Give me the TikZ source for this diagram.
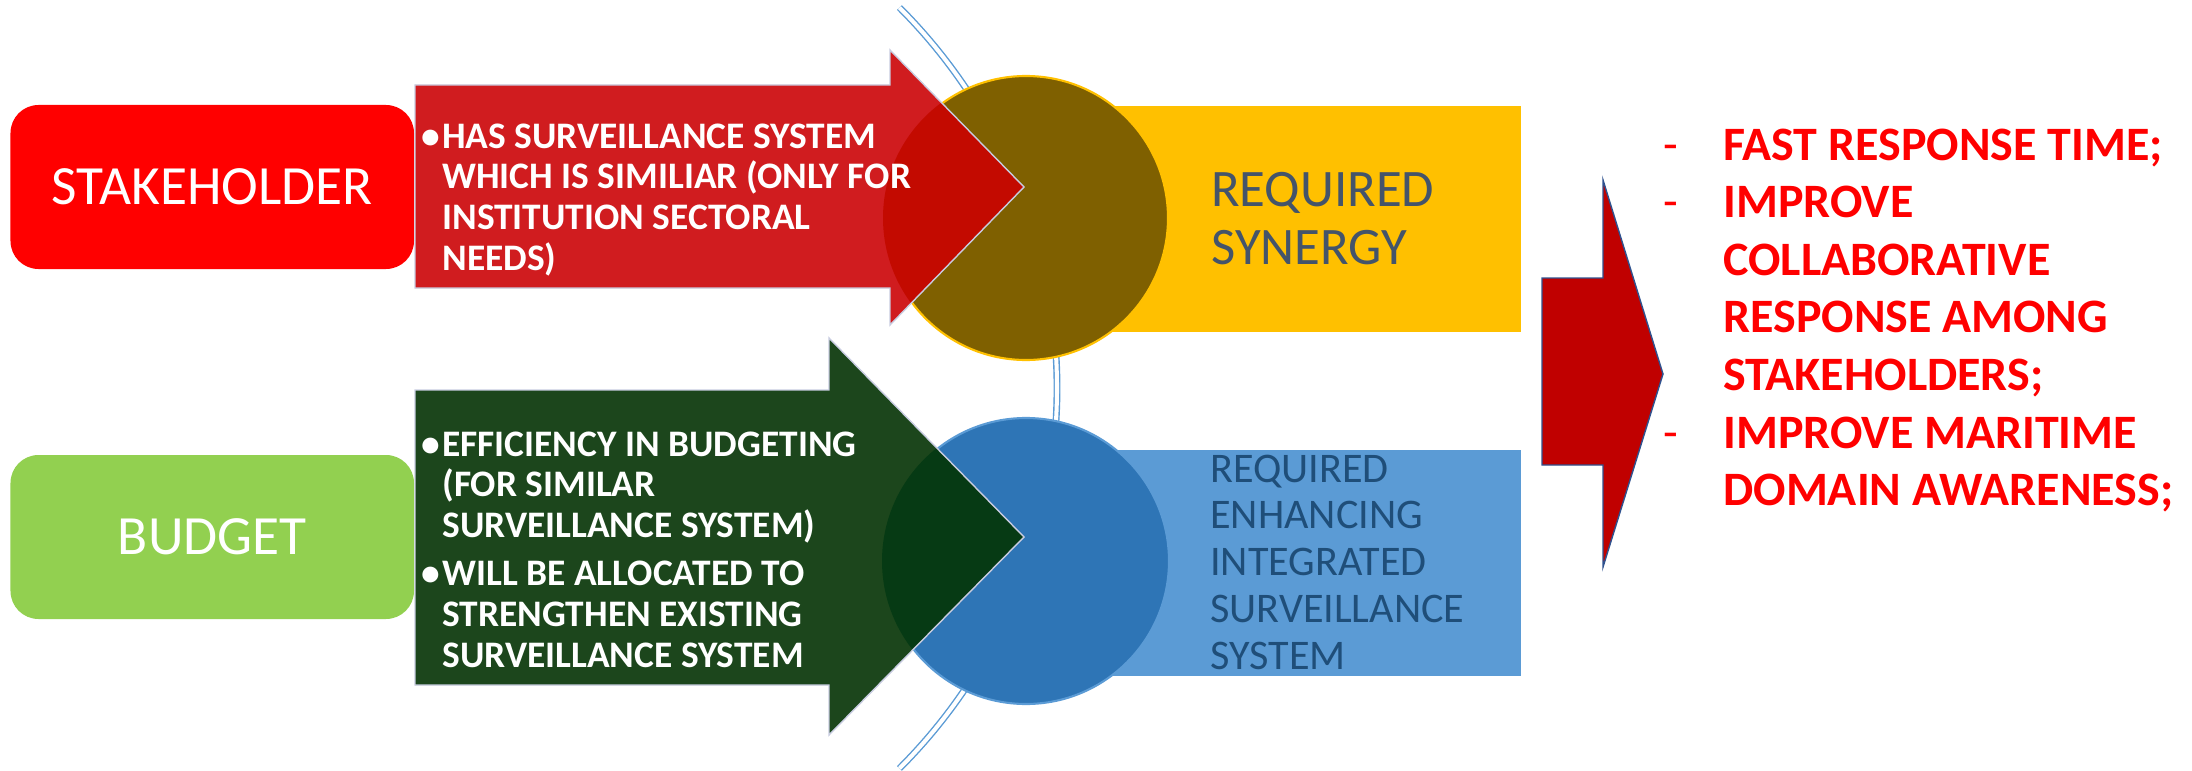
\documentclass[tikz,border=0pt]{standalone}
\usepackage{fontspec}
\setmainfont{Carlito}
\usepackage{tikz}
\usetikzlibrary{positioning,calc}

\definecolor{stakered}{HTML}{FF0000}
\definecolor{budgetgreen}{HTML}{92D050}
\definecolor{arrowred}{HTML}{D01C1F}
\definecolor{overred}{HTML}{C30A00}
\definecolor{arrowgreen}{HTML}{1C461C}
\definecolor{overgreen}{HTML}{063A14}
\definecolor{synolive}{HTML}{7F6000}
\definecolor{synyellow}{HTML}{FFC000}
\definecolor{intblue}{HTML}{2E75B6}
\definecolor{lightblue}{HTML}{5B9BD5}
\definecolor{slatetext}{HTML}{44546A}
\definecolor{navytext}{HTML}{1F4E79}
\definecolor{edgegray}{HTML}{C8CCE0}
\definecolor{outred}{HTML}{C00000}
\definecolor{outedge}{HTML}{2F528F}

\begin{document}
\begin{tikzpicture}
\tikzstyle{category}=[rounded corners=0.56cm,minimum width=8.07cm,minimum height=3.28cm,inner sep=0pt,text=white,font=\fontsize{31.5}{37}\selectfont]
\tikzstyle{blockarrow}=[draw=edgegray,line width=0.8pt]
\tikzstyle{result}=[anchor=south west,minimum width=9.9cm,minimum height=4.52cm,inner sep=0pt]
\tikzstyle{disc}=[circle,inner sep=0pt,line width=1.2pt]
\tikzstyle{textblock}=[anchor=base west,inner sep=0pt]

\useasboundingbox (0,0) rectangle (43.84,15.4);

\def\arrowA{(8.3,9.64) -- (17.8,9.64) -- (17.8,8.9) -- (20.48,11.66) -- (17.8,14.4) -- (17.8,13.7) -- (8.3,13.7) -- cycle}
\def\arrowB{(8.3,1.7) -- (16.58,1.7) -- (16.58,0.7) -- (20.48,4.66) -- (16.58,8.64) -- (16.58,7.6) -- (8.3,7.6) -- cycle}

% double arc behind the circles
\coordinate (arc_c) at (10.38,7.64);
\draw [lightblue,double=white,double distance=2.3pt,line width=0.8pt] (arc_c) ++(-45:10.76) arc (-45:45:10.76);

% result boxes
\node (syn_box) [result,fill=synyellow] at (20.52,8.76) {};
\node (int_box) [result,fill=lightblue] at (20.52,1.88) {};

\node (syn_circ) [disc,fill=synolive,draw=synyellow,minimum size=5.68cm] at (20.52,11.04) {};
\node (int_circ) [disc,fill=intblue,draw=lightblue,minimum size=5.72cm] at (20.52,4.18) {};

% categories
\node (stake_box) [category,fill=stakered] at (4.245,11.66) {STAKEHOLDER};
\node (budget_box) [category,fill=budgetgreen] at (4.245,4.66) {BUDGET};

% arrows
\fill [arrowred] \arrowA;
\begin{scope}
\clip (syn_circ.center) circle (2.86cm);
\fill [overred] \arrowA;
\end{scope}
\draw [blockarrow] \arrowA;

\fill [arrowgreen] \arrowB;
\begin{scope}
\clip (int_circ.center) circle (2.88cm);
\fill [overgreen] \arrowB;
\end{scope}
\draw [blockarrow] \arrowB;

\node (stake_text) [textblock,text=white,font=\fontsize{21.3}{23.3}\selectfont\bfseries] at (8.42,12.44)
  {\begin{tabular}[t]{@{}l@{}l@{}}
   \makebox[0.42cm][l]{\textbullet}&HAS SURVEILLANCE SYSTEM\\
   &WHICH IS SIMILIAR (ONLY FOR\\
   &INSTITUTION SECTORAL\\
   &NEEDS)
   \end{tabular}};
\node (budget_text) [textblock,text=white,font=\fontsize{21.3}{23.3}\selectfont\bfseries] at (8.42,6.28)
  {\begin{tabular}[t]{@{}l@{}l@{}}
   \makebox[0.42cm][l]{\textbullet}&EFFICIENCY IN BUDGETING\\
   &(FOR SIMILAR\\
   &SURVEILLANCE SYSTEM)\\[4pt]
   \textbullet&WILL BE ALLOCATED TO\\
   &STRENGTHEN EXISTING\\
   &SURVEILLANCE SYSTEM
   \end{tabular}};

\node (syn_text) [textblock,text=slatetext,font=\fontsize{30}{33}\selectfont] at (24.22,11.27)
  {\begin{tabular}[t]{@{}l@{}}REQUIRED\\SYNERGY\end{tabular}};
\node (int_text) [textblock,text=navytext,font=\fontsize{24}{26.7}\selectfont] at (24.2,5.76)
  {\begin{tabular}[t]{@{}l@{}}REQUIRED\\ENHANCING\\INTEGRATED\\SURVEILLANCE\\SYSTEM\end{tabular}};

% outcome
\draw [fill=outred,draw=outedge,line width=0.8pt] (30.84,6.1) -- (32.06,6.1) -- (32.06,4.06) -- (33.26,7.92) -- (32.06,11.8) -- (32.06,9.84) -- (30.84,9.84) -- cycle;

\node (out_text) [textblock,text=stakered,font=\fontsize{27.3}{32.8}\selectfont\bfseries] at (33.26,12.2)
  {\begin{tabular}[t]{@{}p{1.2cm}@{}l@{}}
   {\mdseries -}&FAST RESPONSE TIME;\\
   {\mdseries -}&IMPROVE\\
   &COLLABORATIVE\\
   &RESPONSE AMONG\\
   &STAKEHOLDERS;\\
   {\mdseries -}&IMPROVE MARITIME\\
   &DOMAIN AWARENESS;
   \end{tabular}};

\end{tikzpicture}
\end{document}
